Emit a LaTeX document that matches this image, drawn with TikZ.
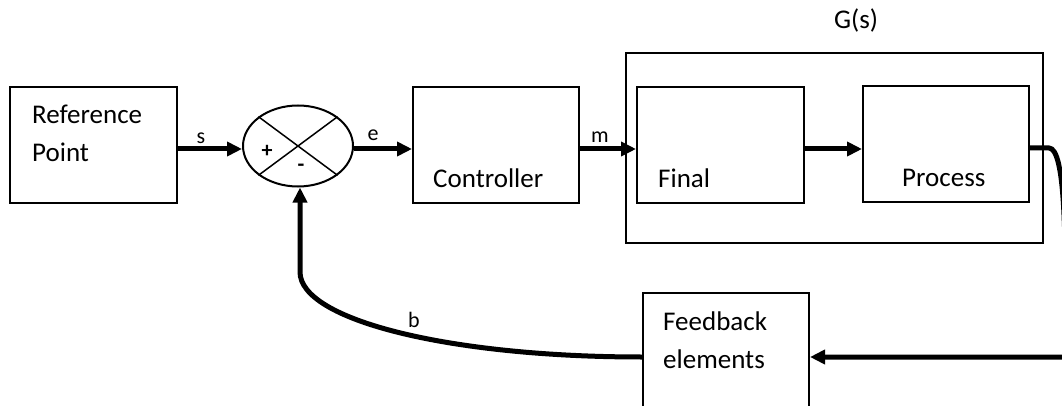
\documentclass[tikz,border=0pt]{standalone}
\usepackage{fontspec}
\setmainfont{Carlito}
\usetikzlibrary{arrows.meta,shapes.geometric}
\tikzset{
  blk/.style={draw, line width=2pt, inner sep=0pt},
  flow/.style={line width=5pt, -{Triangle[length=15pt,width=14pt]}},
  txt/.style={inner sep=0pt, anchor=base west, align=left, font=\fontsize{27}{38}\selectfont},
  lbl/.style={inner sep=0pt, anchor=base, font=\fontsize{22}{24}\selectfont},
  sgn/.style={inner sep=0pt, font=\fontsize{22}{24}\selectfont\bfseries}
}

\begin{document}
\begin{tikzpicture}[x=1pt,y=-1pt]
  \useasboundingbox (0,0) rectangle (1062,406);
  \clip (0,0) rectangle (1062,406);
  % blocks
  \node[blk, minimum width=167, minimum height=116] (ref) at (93.5,145) {};
  \node[blk, ellipse, minimum width=110, minimum height=81] (sum) at (298,146) {};
  \node[blk, minimum width=166, minimum height=116] (ctrl) at (496,145) {};
  \node[blk, minimum width=417, minimum height=190] (gbox) at (834.5,148) {};
  \node[blk, minimum width=167, minimum height=116] (fin) at (720.5,145) {};
  \node[blk, minimum width=166, minimum height=116] (proc) at (946,144) {};
  \node[blk, minimum width=166, minimum height=128] (fb) at (726,357) {};
  \draw[line width=1.5pt] (sum.north west) -- (sum.south east);
  \draw[line width=1.5pt] (sum.north east) -- (sum.south west);
  % texts
  \node[txt] (reftxt) at (32,162) {Reference\\Point};
  \node[txt] (ctrltxt) at (433,188) {Controller};
  \node[txt] (fintxt) at (658,188) {Final};
  \node[txt] (proctxt) at (902,186) {Process};
  \node[txt] (fbtxt) at (663,368) {Feedback\\elements};
  \node[txt] (gtxt) at (834,29) {G(s)};
  \node[sgn] (plus) at (267,151) {+};
  \node[sgn] (minus) at (301,168) {-};
  \node[lbl] (slbl) at (201,144) {s};
  \node[lbl] (elbl) at (373,141) {e};
  \node[lbl] (mlbl) at (600,143) {m};
  \node[lbl] (blbl) at (414,327) {b};
  % signal flow
  \coordinate (o1) at (1049,148);
  \coordinate (o2) at (1064,215);
  \coordinate (out) at (1070,357);
  \coordinate (bend) at (300,272);
  \draw[flow] ([yshift=-4pt]ref.east) -- ([yshift=-3pt]sum.west);
  \draw[flow] ([yshift=-3pt]sum.east) -- ([yshift=-4pt]ctrl.west);
  \draw[flow] ([yshift=-4pt]ctrl.east) -- ([yshift=-4pt]fin.west);
  \draw[flow] ([yshift=-4pt]fin.east) -- ([yshift=-5pt]proc.west);
  \draw[flow] ([yshift=-4pt]proc.east) -- (o1) .. controls +(8,0) and +(-2,-45) .. (o2) -- (out) -- (fb.east);
  \draw[flow] (fb.west) .. controls +(-193,0) and +(0,48) .. (bend) -- (sum.south -| bend);
\end{tikzpicture}
\end{document}
